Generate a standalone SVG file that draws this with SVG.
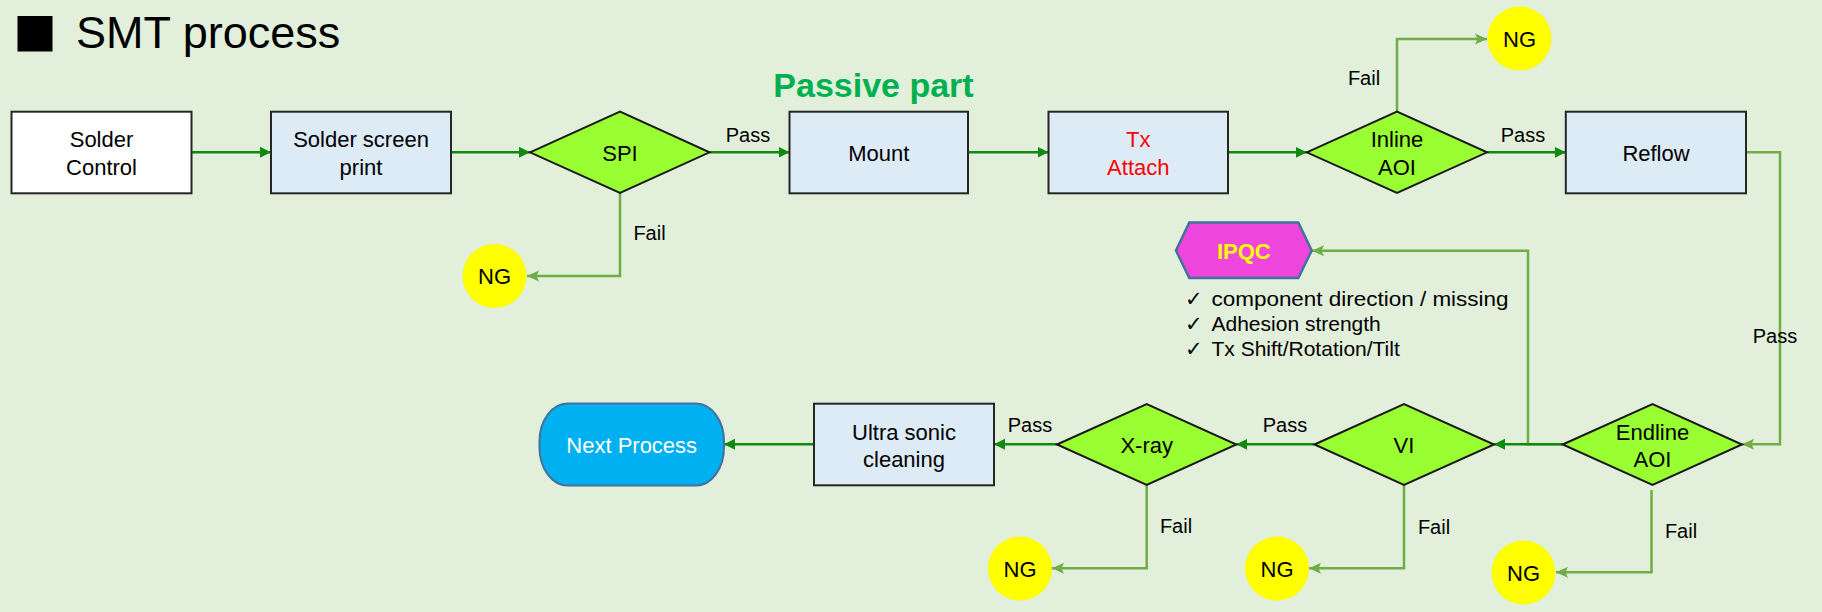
<svg xmlns="http://www.w3.org/2000/svg" width="1822" height="612" viewBox="0 0 1822 612">
<defs>
<style>
text{font-family:"Liberation Sans",Arial,sans-serif;fill:#000}
.t{font-size:22px;text-anchor:middle}
.lbl{font-size:20px;text-anchor:middle}
.box{fill:#DDEBF7;stroke:#262626;stroke-width:2}
.dia{fill:#99FF33;stroke:#1a1a1a;stroke-width:2}
.ng{fill:#FFFF00}
.dk{fill:none;stroke:#108a10;stroke-width:2.5;marker-end:url(#ad)}
.lt{fill:none;stroke:#70AD47;stroke-width:2.5;marker-end:url(#al)}
.chk{font-size:21px}
</style>
<marker id="ad" markerUnits="userSpaceOnUse" markerWidth="12" markerHeight="12" refX="11" refY="6" orient="auto">
<path d="M0,0.5 L11,6 L0,11.5 Z" fill="#108a10"/>
</marker>
<marker id="al" markerUnits="userSpaceOnUse" markerWidth="13" markerHeight="13" refX="12" refY="6.5" orient="auto">
<path d="M0,1 L12,6.5 L0,12 L2.5,6.5 Z" fill="#70AD47"/>
</marker>
</defs>
<rect x="0" y="0" width="1822" height="612" fill="#E2EFDA"/>
<g id="title">
<rect x="17.5" y="16" width="35" height="35.5" fill="#000"/>
<text x="76" y="48.3" style="font-size:45px">SMT process</text>
</g>
<g id="passive-label">
<text x="873.5" y="96.7" style="font-size:34px;font-weight:bold;fill:#00B050;text-anchor:middle">Passive part</text>
</g>
<g id="connectors">
<path class="dk" d="M191.5,152.3 H271"/>
<path class="dk" d="M451,152.3 H530"/>
<path class="dk" d="M709.5,152.3 H789.5"/>
<path class="dk" d="M968,152.3 H1048.5"/>
<path class="dk" d="M1228,152.3 H1306.8"/>
<path class="dk" d="M1487,152.3 H1565.8"/>
<path class="lt" d="M1562.7,444.3 H1528 V250.7 H1312"/>
<path class="dk" d="M1562.7,444.3 H1494"/>
<path class="dk" d="M1314.5,444.3 H1236.3"/>
<path class="dk" d="M1057,444.3 H994"/>
<path class="dk" d="M814,444.3 H724"/>
<path class="lt" d="M620,193 V276 H527"/>
<path class="lt" d="M1397,111.7 V39 H1487"/>
<path class="lt" d="M1746,152.3 H1780 V444.3 H1742"/>
<path class="lt" d="M1146.7,485 V568.3 H1052"/>
<path class="lt" d="M1404,485 V568.3 H1309"/>
<path class="lt" d="M1651.5,490 V572.3 H1556"/>
<text class="lbl" x="748" y="141.7">Pass</text>
<text class="lbl" x="1523" y="141.7">Pass</text>
<text class="lbl" x="1775" y="342.7">Pass</text>
<text class="lbl" x="1285" y="432.3">Pass</text>
<text class="lbl" x="1030" y="432.3">Pass</text>
<text class="lbl" x="649.5" y="240">Fail</text>
<text class="lbl" x="1364" y="85">Fail</text>
<text class="lbl" x="1176" y="533">Fail</text>
<text class="lbl" x="1434" y="534">Fail</text>
<text class="lbl" x="1681" y="538">Fail</text>
</g>
<g id="solder-control">
<rect x="11.5" y="111.7" width="180" height="81.6" fill="#FFFFFF" stroke="#262626" stroke-width="2"/>
<text class="t" x="101.5" y="147">Solder</text>
<text class="t" x="101.5" y="175">Control</text>
</g>
<g id="solder-screen-print">
<rect class="box" x="271" y="111.7" width="180" height="81.6"/>
<text class="t" x="361" y="147">Solder screen</text>
<text class="t" x="361" y="175">print</text>
</g>
<g id="spi">
<polygon class="dia" points="530,152.3 620,111.7 709.5,152.3 620,193"/>
<text class="t" x="620" y="160.5">SPI</text>
</g>
<g id="ng-spi">
<circle class="ng" cx="494.5" cy="276" r="32"/>
<text class="t" x="494.5" y="284">NG</text>
</g>
<g id="mount">
<rect class="box" x="789.5" y="111.7" width="178.5" height="81.6"/>
<text class="t" x="878.8" y="160.5">Mount</text>
</g>
<g id="tx-attach">
<rect class="box" x="1048.5" y="111.7" width="179.5" height="81.6"/>
<text class="t" x="1138.3" y="147" style="fill:#FF0000">Tx</text>
<text class="t" x="1138.3" y="175" style="fill:#FF0000">Attach</text>
</g>
<g id="inline-aoi">
<polygon class="dia" points="1306.8,152.3 1397,111.7 1487,152.3 1397,193"/>
<text class="t" x="1397" y="147">Inline</text>
<text class="t" x="1397" y="175">AOI</text>
</g>
<g id="ng-inline">
<circle class="ng" cx="1519.5" cy="38.5" r="32"/>
<text class="t" x="1519.5" y="46.5">NG</text>
</g>
<g id="reflow">
<rect class="box" x="1565.8" y="111.7" width="180.2" height="81.6"/>
<text class="t" x="1656" y="160.5">Reflow</text>
</g>
<g id="ipqc">
<polygon points="1176,250.5 1189.3,222.5 1298.3,222.5 1311.7,250.5 1298.3,278 1189.3,278" fill="#EE45DD" stroke="#41719C" stroke-width="2.5"/>
<text x="1243.8" y="258.5" style="font-size:22px;font-weight:bold;fill:#FFFF00;text-anchor:middle">IPQC</text>
</g>
<g id="ipqc-checklist">
<text class="chk" x="1185" y="306">✓</text>
<text class="chk" x="1211.5" y="306" textLength="297" lengthAdjust="spacingAndGlyphs">component direction / missing</text>
<text class="chk" x="1185" y="331">✓</text>
<text class="chk" x="1211.5" y="331">Adhesion strength</text>
<text class="chk" x="1185" y="356">✓</text>
<text class="chk" x="1211.5" y="356">Tx Shift/Rotation/Tilt</text>
</g>
<g id="endline-aoi">
<polygon class="dia" points="1562.7,444.5 1652.5,404 1742,444.5 1652.5,485"/>
<text class="t" x="1652.5" y="440">Endline</text>
<text class="t" x="1652.5" y="467">AOI</text>
</g>
<g id="ng-endline">
<circle class="ng" cx="1523.5" cy="572.5" r="32"/>
<text class="t" x="1523.5" y="580.5">NG</text>
</g>
<g id="vi">
<polygon class="dia" points="1314.5,444.5 1404,404 1494,444.5 1404,485"/>
<text class="t" x="1404" y="452.5">VI</text>
</g>
<g id="ng-vi">
<circle class="ng" cx="1277" cy="568.5" r="32"/>
<text class="t" x="1277" y="576.5">NG</text>
</g>
<g id="x-ray">
<polygon class="dia" points="1057,444.5 1146.7,404 1236.3,444.5 1146.7,485"/>
<text class="t" x="1146.7" y="452.5">X-ray</text>
</g>
<g id="ng-xray">
<circle class="ng" cx="1020" cy="568.5" r="32"/>
<text class="t" x="1020" y="576.5">NG</text>
</g>
<g id="ultra-sonic-cleaning">
<rect class="box" x="814" y="403.7" width="180" height="81.6"/>
<text class="t" x="904" y="440">Ultra sonic</text>
<text class="t" x="904" y="467">cleaning</text>
</g>
<g id="next-process">
<rect x="539.5" y="403.5" width="184.5" height="82" rx="28" ry="38" fill="#00B0F0" stroke="#41719C" stroke-width="2"/>
<text class="t" x="631.7" y="452.5" style="fill:#FFFFFF">Next Process</text>
</g>
</svg>
